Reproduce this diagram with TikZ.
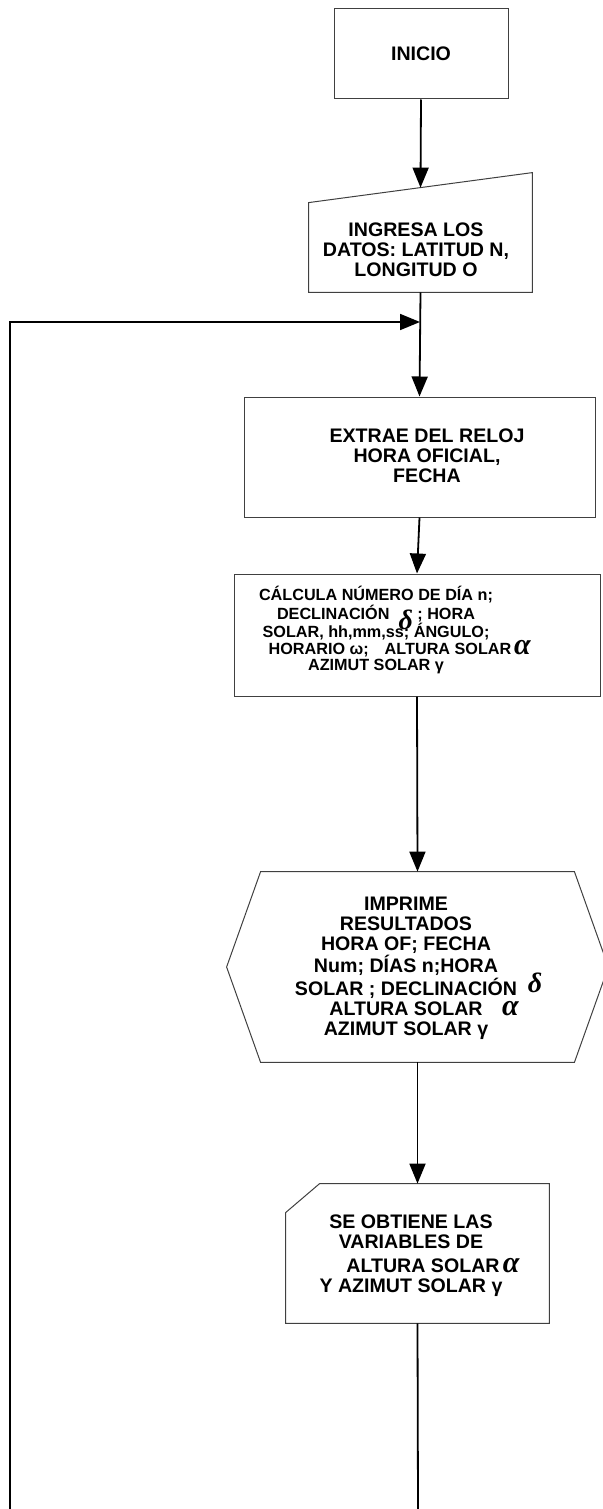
\documentclass[tikz,border=0pt]{standalone}
\usepackage{fontspec}
\setmainfont{Liberation Sans}[BoldFont={Liberation Sans Bold}]
\newfontfamily\grkfont{Liberation Serif}
\usetikzlibrary{positioning,
                arrows.meta}                % arrow tips

\newcommand{\galfa}{{\grkfont\itshape\fontsize{15}{15}\selectfont α}}
\newcommand{\gdelta}{{\grkfont\itshape\fontsize{14}{14}\selectfont δ}}

\begin{document}
\begin{tikzpicture}[x=0.5pt, y=-0.5pt,
    caja/.style={draw=black!75, line width=0.5pt, inner sep=0pt},
    linea/.style={draw=black!75, line width=0.5pt},
    texto/.style={font=\bfseries\fontsize{9.8}{10}\selectfont, align=center, inner sep=0pt},
    conector/.style={line width=0.9pt},
    flecha/.style={conector, -{Triangle[length=10pt,width=8pt]}}]
      \useasboundingbox (0,0) rectangle (602,1509);

      % cajas
      \node[caja, texto, minimum width=87pt, minimum height=45pt] (inicio) at (421,54) {INICIO};

      \node[minimum width=111.5pt, minimum height=59.5pt, inner sep=0pt] (datos) at (420.5,232.5) {};
      \draw[linea] ([yshift=-15pt]datos.north west) -- (datos.north east) -- (datos.south east) -- (datos.south west) -- cycle;
      \node[texto] (datostxt) at (416,250) {INGRESA LOS\\DATOS: LATITUD N,\\LONGITUD O};

      \node[caja, minimum width=175.5pt, minimum height=60pt] (extrae) at (419.5,457) {};
      \node[texto] (extraetxt) at (427,456) {EXTRAE DEL RELOJ\\HORA OFICIAL,\\FECHA};

      \node[caja, minimum width=183pt, minimum height=61pt] (calcula) at (417,635) {};
      \node[texto, font=\bfseries\fontsize{8.1}{8.2}\selectfont] (calculatxt) at (376,630)
        {CÁLCULA NÚMERO DE DÍA n;\\DECLINACIÓN\ \ \smash{\raisebox{-5pt}{\gdelta}}\ ; HORA\\SOLAR, hh,mm,ss; ÁNGULO;\\\hspace*{14pt}HORARIO ω;\hspace{8pt}ALTURA SOLAR\rlap{\,\smash{\galfa}}\\AZIMUT SOLAR γ};

      \node[minimum width=156.5pt, minimum height=95pt, inner sep=0pt] (imprime) at (417.5,967) {};
      \draw[linea] (imprime.north west) -- (imprime.north east) -- ([xshift=17pt]imprime.east) -- (imprime.south east) -- (imprime.south west) -- ([xshift=-17pt]imprime.west) -- cycle;
      \node[texto] (imprimetxt) at (406,968)
        {IMPRIME\\RESULTADOS\\HORA OF; FECHA\\Num; DÍAS n;HORA\\SOLAR ; DECLINACIÓN\rlap{\ \ \smash{\raisebox{1.5pt}{\gdelta}}}\\ALTURA SOLAR\rlap{\quad\smash{\galfa}}\\AZIMUT SOLAR γ};

      \node[minimum width=131.5pt, minimum height=69.5pt, inner sep=0pt] (obtiene) at (417.5,1253.5) {};
      \draw[linea] ([xshift=17pt]obtiene.north west) -- (obtiene.north east) -- (obtiene.south east) -- (obtiene.south west) -- ([yshift=-14.5pt]obtiene.north west) -- cycle;
      \node[texto] (obtienetxt) at (411,1256)
        {SE OBTIENE LAS\\VARIABLES DE\\[2pt]\hspace{12pt}ALTURA SOLAR\rlap{\,\smash{\galfa}}\\Y AZIMUT SOLAR γ};

      % puntos libres
      \coordinate (lazo) at (420,322);
      \coordinate (izq) at (10,1509);
      \coordinate (fin) at (418,1509);

      % conectores
      \draw[flecha] (inicio.south) -- ([yshift=-7.5pt]datos.north);
      \draw[flecha] (datos.south) -- (extrae.north);
      \draw[flecha] (extrae.south) -- (calcula.north);
      \draw[flecha] (calcula.south) -- (imprime.north);
      \draw[flecha] (imprime.south) -- (obtiene.north);
      \draw[conector] (obtiene.south) -- (fin);
      \draw[flecha] (izq) |- (lazo);
\end{tikzpicture}
\end{document}
